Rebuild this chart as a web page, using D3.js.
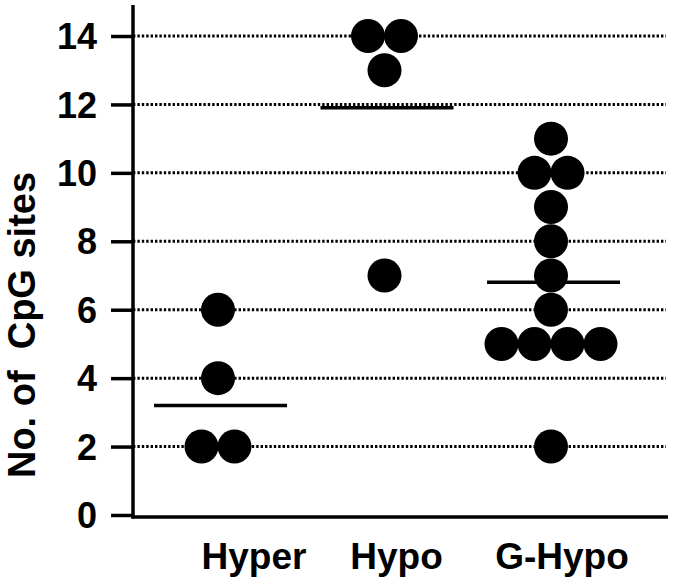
<!DOCTYPE html>
<html lang="en">
<head>
    <meta charset="UTF-8">
    <title>CpG sites</title>
    <style>
        body { margin: 0; background: #fff; }
        svg { display: block; }
        text { font-family: "Liberation Sans", Arial, sans-serif; font-weight: bold; fill: #000; }
    </style>
</head>
<body>
    <script src="https://cdnjs.cloudflare.com/ajax/libs/d3/7.8.5/d3.min.js"></script>
    <script>
        // data
        const categories = ["Hyper", "Hypo", "G-Hypo"];
        const hyperSites = [6, 4, 2, 2];
        const hypoSites = [14, 14, 13, 7];
        const gHypoSites = [11, 10, 10, 9, 8, 7, 6, 5, 5, 5, 5, 2];
        const groupMeans = [3.2, 11.9, 6.8];
        const yTicks = [0, 2, 4, 6, 8, 10, 12, 14];

        const groups = [hyperSites, hypoSites, gHypoSites];

        const width = 674, height = 586;
        const axisX = 133, axisY = 517, axisRight = 668;
        const r = 17, spread = 33;
        const labelNudge = [36, 12, 11];

        const svg = d3.select("body").append("svg")
            .attr("width", width)
            .attr("height", height);

        const y = d3.scaleLinear().domain([0, 14]).range([axisY - 2, 36]);
        const x = d3.scalePoint().domain(categories).range([218, 551]);

        // dotted grid lines
        svg.append("g")
            .selectAll("line")
            .data(yTicks.filter(d => d > 0))
            .join("line")
            .attr("x1", axisX)
            .attr("x2", 666)
            .attr("y1", d => y(d))
            .attr("y2", d => y(d))
            .attr("stroke", "#000")
            .attr("stroke-width", 3)
            .attr("stroke-dasharray", "2.4,2");

        // y axis
        const yAxis = svg.append("g")
            .attr("transform", `translate(${axisX},0)`)
            .call(d3.axisLeft(y).tickValues(yTicks).tickSize(22).tickPadding(14).tickFormat(d3.format("d")));
        yAxis.select(".domain").remove();
        yAxis.selectAll(".tick line").attr("stroke", "#000").attr("stroke-width", 3.5);
        yAxis.selectAll(".tick text")
            .attr("font-size", 36)
            .attr("dy", "0.35em")
            .attr("font-family", "Liberation Sans, Arial, sans-serif")
            .attr("font-weight", "bold");

        svg.append("line")
            .attr("x1", axisX).attr("x2", axisX)
            .attr("y1", 5).attr("y2", axisY + 1.5)
            .attr("stroke", "#000").attr("stroke-width", 3.5);
        svg.append("line")
            .attr("x1", axisX - 1.5).attr("x2", axisRight)
            .attr("y1", axisY).attr("y2", axisY)
            .attr("stroke", "#000").attr("stroke-width", 3.5);

        // dots, side by side when values tie
        const dots = [];
        groups.forEach((vals, gi) => {
            const counts = d3.rollup(vals, v => v.length, d => d);
            const seen = new Map();
            vals.forEach(v => {
                const k = seen.get(v) || 0;
                seen.set(v, k + 1);
                const n = counts.get(v);
                dots.push({ cat: categories[gi], value: v, off: (k - (n - 1) / 2) * spread });
            });
        });

        svg.append("g")
            .selectAll("circle")
            .data(dots)
            .join("circle")
            .attr("cx", d => x(d.cat) + d.off)
            .attr("cy", d => y(d.value))
            .attr("r", r)
            .attr("fill", "#000");

        // mean lines
        svg.append("g")
            .selectAll("line")
            .data(groupMeans)
            .join("line")
            .attr("x1", (d, i) => x(categories[i]) - 64)
            .attr("x2", (d, i) => x(categories[i]) + 69)
            .attr("y1", d => y(d))
            .attr("y2", d => y(d))
            .attr("stroke", "#000")
            .attr("stroke-width", 3.5);

        // category labels
        svg.append("g")
            .selectAll("text")
            .data(categories)
            .join("text")
            .attr("x", (d, i) => x(d) + labelNudge[i])
            .attr("y", 569)
            .attr("text-anchor", "middle")
            .attr("font-size", 37)
            .text(d => d);

        // y title
        svg.append("text")
            .attr("transform", "translate(35,325) rotate(-90)")
            .attr("text-anchor", "middle")
            .attr("font-size", 38)
            .attr("xml:space", "preserve")
            .style("white-space", "pre")
            .text("No. of  CpG sites");
    </script>
</body>
</html>
